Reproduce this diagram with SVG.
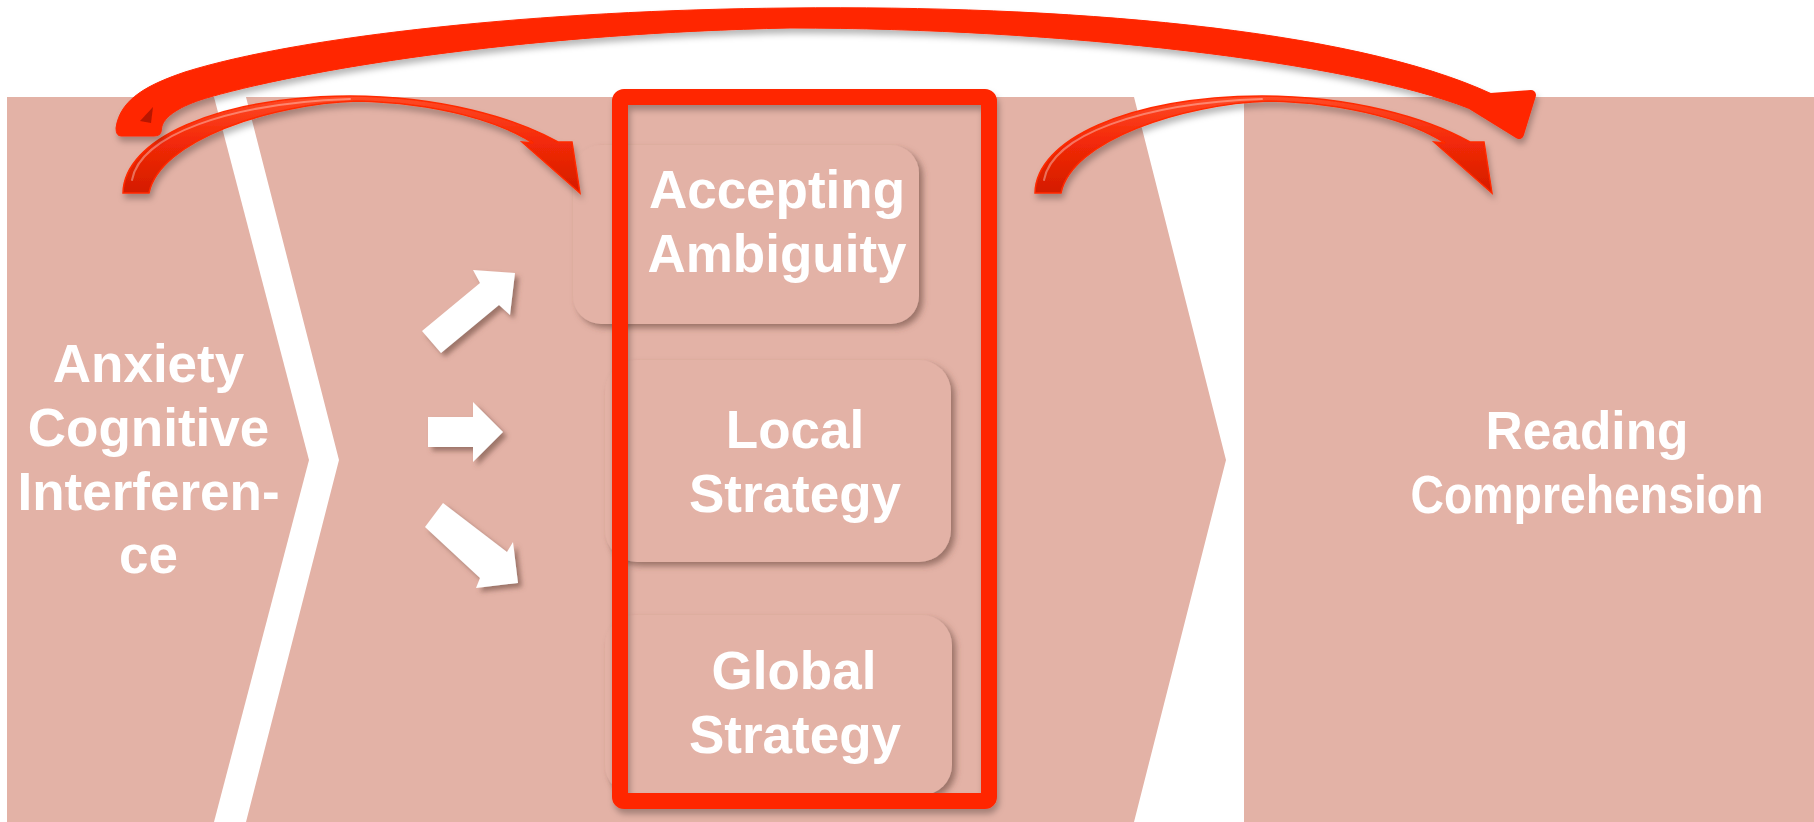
<svg xmlns="http://www.w3.org/2000/svg" width="1814" height="822" viewBox="0 0 1814 822">
  <defs>
    <style>
      .panel { fill: #E3B2A6; }
      .box { fill: #E3B2A6; filter: url(#boxShadow); }
      .label { font-family: "Liberation Sans", Arial, sans-serif; font-weight: bold; font-size: 53px; fill: #FFFFFF; text-anchor: middle; }
      .frame { fill: none; stroke: #FF2600; stroke-width: 16; }
      .block-arrow { fill: #FFFFFF; filter: url(#arrowShadow); }
      .curve-arrow { fill: url(#glossRed); stroke: #FF2A00; stroke-width: 1.5; stroke-linejoin: miter; filter: url(#softShadow); }
      .gloss { fill: none; stroke: #FFFFFF; stroke-opacity: 0.35; stroke-width: 2; stroke-linecap: round; }
      .big-arrow { fill: #FF2600; stroke: #FF2600; stroke-linejoin: round; }
    </style>
    <filter id="boxShadow" x="-10%" y="-10%" width="125%" height="125%">
      <feDropShadow dx="4" dy="4" stdDeviation="3" flood-color="#5E3F38" flood-opacity="0.55"/>
    </filter>
    <filter id="arrowShadow" x="-20%" y="-20%" width="150%" height="150%">
      <feDropShadow dx="4" dy="4" stdDeviation="2.5" flood-color="#6E4B43" flood-opacity="0.6"/>
    </filter>
    <filter id="softShadow" x="-10%" y="-20%" width="120%" height="160%">
      <feDropShadow dx="2" dy="5" stdDeviation="3" flood-color="#000000" flood-opacity="0.28"/>
    </filter>
    <linearGradient id="glossRed" x1="0" y1="0" x2="0" y2="1">
      <stop offset="0" stop-color="#FF4A26"/>
      <stop offset="0.45" stop-color="#F42A08"/>
      <stop offset="1" stop-color="#D41C00"/>
    </linearGradient>
  </defs>

  <rect width="1814" height="822" fill="#FFFFFF"/>

  <!-- three stage panels: two chevrons and the final block -->
  <g id="stages">
    <polygon class="panel" points="7,97 214,97 309,460 214,822 7,822"/>
    <polygon class="panel" points="246,97 1134,97 1226,460 1134,822 246,822 339,460"/>
    <rect class="panel" x="1244" y="97" width="570" height="725"/>
  </g>

  <g id="node-anxiety">
    <text class="label" x="148.5" y="382">Anxiety</text>
    <text class="label" x="148.5" y="446">Cognitive</text>
    <text class="label" x="148.5" y="510">Interferen-</text>
    <text class="label" x="148.5" y="573">ce</text>
  </g>

  <g id="node-accepting-ambiguity">
    <rect class="box" x="573" y="145" width="346" height="179" rx="28"/>
    <text class="label" x="777" y="208">Accepting</text>
    <text class="label" x="777" y="272">Ambiguity</text>
  </g>

  <g id="node-local-strategy">
    <rect class="box" x="605" y="360" width="346" height="202" rx="32"/>
    <text class="label" x="795" y="448">Local</text>
    <text class="label" x="795" y="512">Strategy</text>
  </g>

  <g id="node-global-strategy">
    <rect class="box" x="605" y="615" width="347" height="180" rx="30"/>
    <text class="label" x="794" y="689">Global</text>
    <text class="label" x="795" y="753">Strategy</text>
  </g>

  <g id="node-reading-comprehension">
    <text class="label" x="1587" y="449" textLength="203" lengthAdjust="spacingAndGlyphs">Reading</text>
    <text class="label" x="1587" y="513" textLength="353" lengthAdjust="spacingAndGlyphs">Comprehension</text>
  </g>

  <!-- frame grouping the three strategies -->
  <g id="strategy-frame">
    <rect class="frame" x="620" y="97" width="369" height="704" rx="4" filter="url(#softShadow)"/>
  </g>

  <g id="connectors">
    <!-- white block arrows from anxiety to the strategies -->
    <polygon class="block-arrow" points="422,331 480,283 473,270 515,273 510,315 499,305 441,353"/>
    <polygon class="block-arrow" points="428,417 473,417 473,402 503,432 473,462 473,447 428,447"/>
    <polygon class="block-arrow" points="443,503 507,552 513,542 518,583 476,588 480,578 425,527"/>

    <!-- curved arrow: anxiety to strategies -->
    <path class="curve-arrow" d="M123,193 C124,140 215,97 350,96 C440,96 515,118 558,142 L572,142 L580,193 L522,142 L533,143 C500,122 440,103 357,101 C270,104 160,140 149,193 Z"/>
    <path class="gloss" d="M132,180 C140,135 230,103 350,99"/>

    <!-- curved arrow: strategies to reading comprehension -->
    <path class="curve-arrow" d="M1035,193 C1036,140 1127,97 1262,96 C1352,96 1427,118 1470,142 L1484,142 L1492,193 L1434,142 L1445,143 C1412,122 1352,103 1269,101 C1182,104 1072,140 1061,193 Z"/>
    <path class="gloss" d="M1044,180 C1052,135 1142,103 1262,99"/>

    <!-- long arrow: anxiety directly to reading comprehension -->
    <g id="direct-path" filter="url(#softShadow)">
      <path class="big-arrow" stroke-width="1" d="M116,128 C120,98 150,84 185,72 C300,36 540,10 790,8 C1060,5 1350,28 1492,94 L1468,108 C1350,62 1060,28 790,28 C540,33 320,66 210,97 C185,104 166,114 162,126 L161,132 Q160,136 154,136 L121,136 Q116,136 116,128 Z"/>
      <polygon class="big-arrow" stroke-width="10" points="1464,100 1531,95 1519,134"/>
      <path d="M140,121 L153,107 L151,123 Z" fill="#B81800"/>
    </g>
  </g>
</svg>
